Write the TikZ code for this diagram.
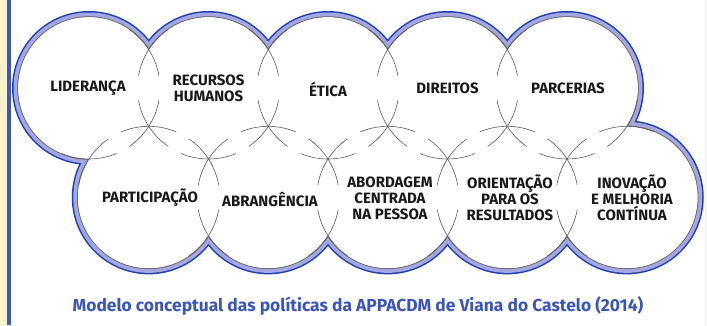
\documentclass[tikz,border=0pt]{standalone}
\usepackage{fontspec}
\setmainfont{Fira Sans}

\definecolor{ringblue}{HTML}{1E3FAE}
\definecolor{ringfill}{HTML}{A4A7E1}
\definecolor{barblue}{HTML}{3A58BE}
\definecolor{cream}{HTML}{FFF3CF}
\definecolor{capblue}{HTML}{3A55B8}

\tikzset{lbl/.style={font=\fontsize{15}{16}\selectfont\bfseries,align=center,text=black!90},
  capt/.style={font=\fontsize{17.4}{20}\selectfont\bfseries,text=capblue}}

\begin{document}
\begin{tikzpicture}[x=1pt,y=-1pt]
\useasboundingbox (0,0) rectangle (707,325);
% side strips
\fill[cream] (0,0) rectangle (7,325);
\fill[barblue] (7,0) rectangle (11,325);
\draw[blue!8,line width=1pt] (705,0) -- (705,325);
% ring round the ten circles
\foreach \r/\c in {77/ringblue,75.5/ringfill,71.7/black!65,70.9/white}{
  \foreach \i in {0,...,4}{
    \fill[\c] (89+119.5*\i,88) circle (\r pt);
    \fill[\c] (148.75+119.5*\i,197.35) circle (\r pt);
  }
}
% short arcs at the crossings
\begin{scope}
\clip \foreach \k in {0,...,3}{(148.75+119.5*\k,49.65) circle (28pt) (148.75+119.5*\k,126.35) circle (28pt) (208.5+119.5*\k,235.7) circle (28pt)}
  \foreach \k in {0,...,4}{(89+119.5*\k,159) circle (28pt)} (626.75,126.35) circle (28pt);
\foreach \i in {0,...,4}{
  \draw[black!65,line width=0.6pt] (89+119.5*\i,88) circle (71pt);
  \draw[black!65,line width=0.6pt] (148.75+119.5*\i,197.35) circle (71pt);
}
\end{scope}
% labels
\node[lbl] (lid) at (88,88) {LIDERANÇA};
\node[lbl] (rh) at (208.5,88) {RECURSOS\\HUMANOS};
\node[lbl] (eti) at (328,89) {ÉTICA};
\node[lbl] (dir) at (447.5,88) {DIREITOS};
\node[lbl] (par) at (568,88) {PARCERIAS};
\node[lbl] (part) at (150,198) {PARTICIPAÇÃO};
\node[lbl] (abr) at (270,200) {ABRANGÊNCIA};
\node[lbl] (abo) at (390,198) {ABORDAGEM\\CENTRADA\\NA PESSOA};
\node[lbl] (ori) at (510,198) {ORIENTAÇÃO\\PARA OS\\RESULTADOS};
\node[lbl] (ino) at (632,198) {INOVAÇÃO\\E MELHORIA\\CONTÍNUA};
\node[capt] (cap) at (358,306) {Modelo conceptual das políticas da APPACDM de Viana do Castelo (2014)};
\end{tikzpicture}
\end{document}
